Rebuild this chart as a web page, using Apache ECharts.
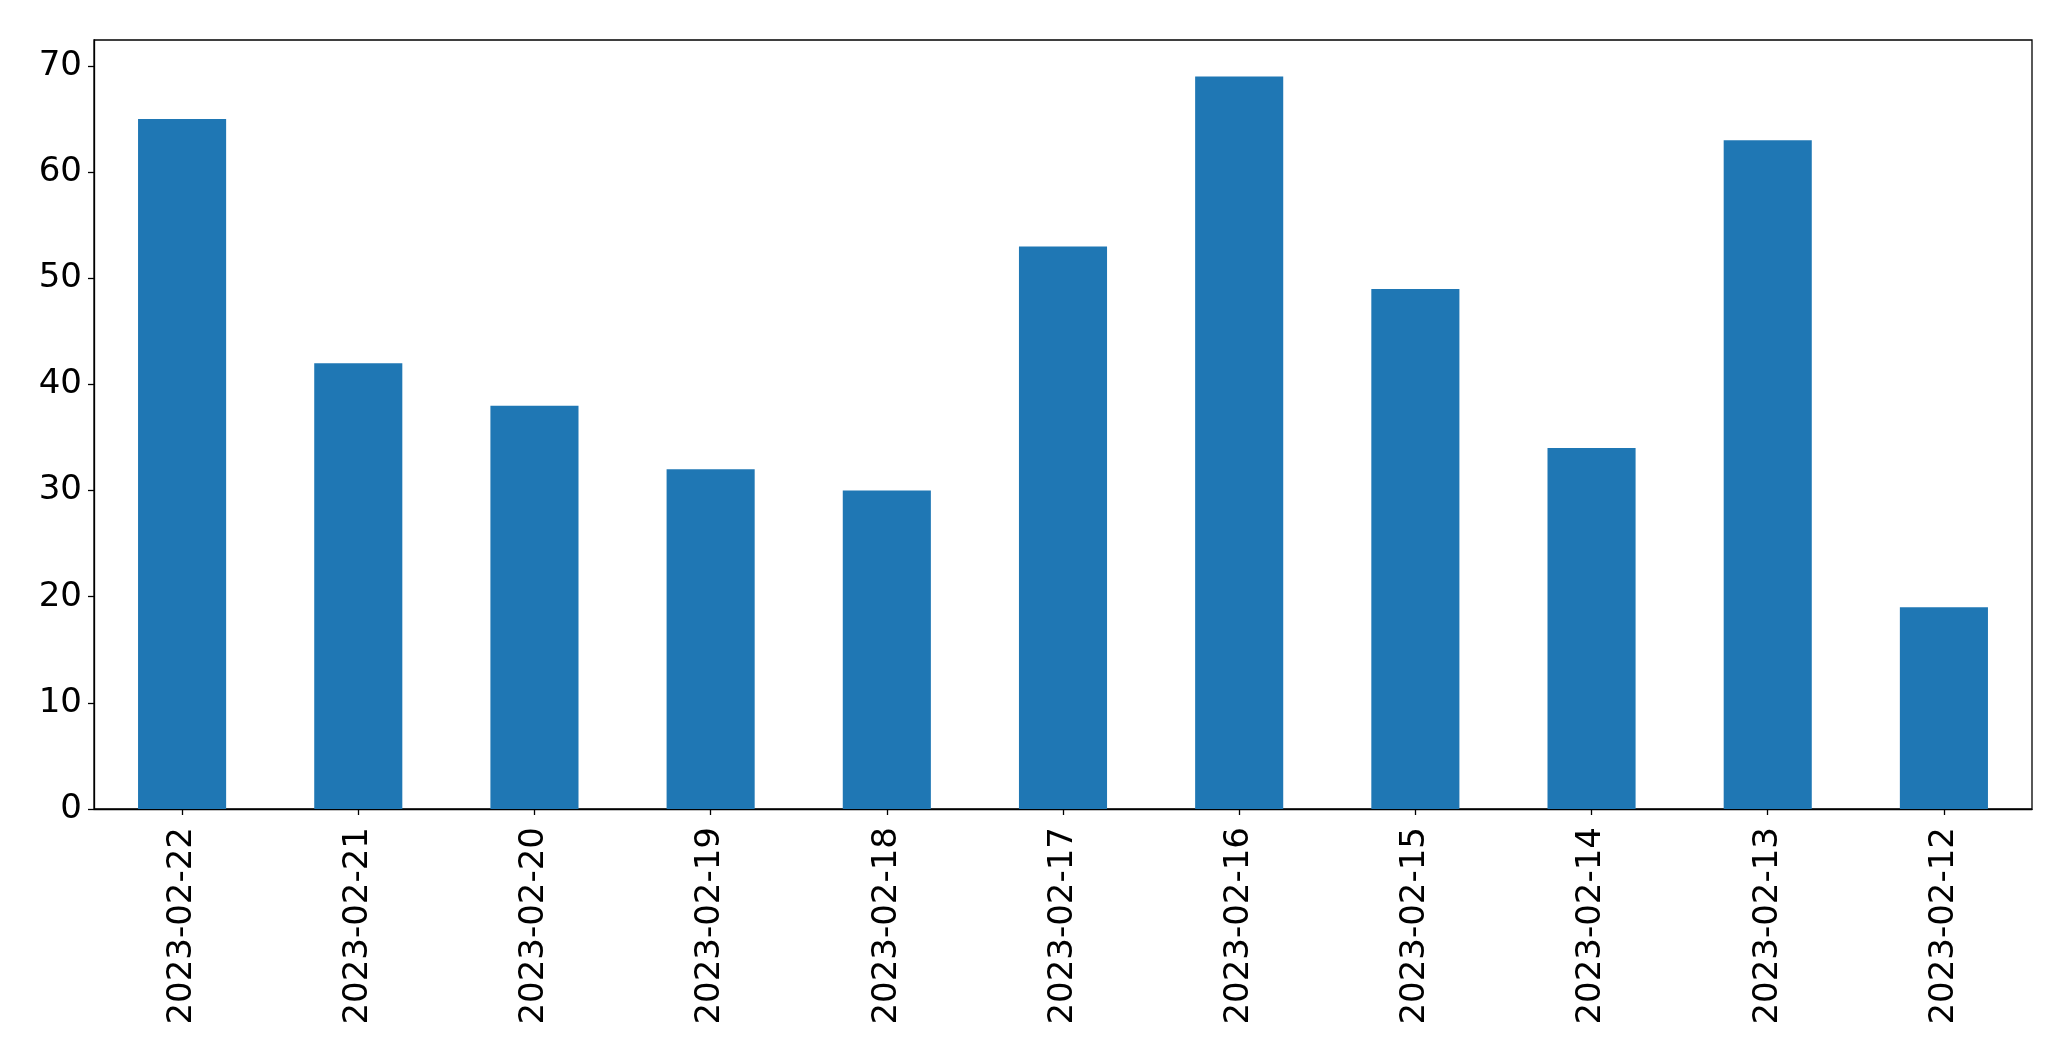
<!DOCTYPE html>
<html>
<head>
<meta charset="utf-8">
<script src="https://cdn.jsdelivr.net/npm/echarts@6/dist/echarts.min.js"></script>
<style>
html,body{margin:0;padding:0;background:#fff;}
#chart{width:2071px;height:1061px;}
</style>
</head>
<body>
<div id="chart"></div>
<script>
const categories = ["2023-02-22","2023-02-21","2023-02-20","2023-02-19","2023-02-18","2023-02-17","2023-02-16","2023-02-15","2023-02-14","2023-02-13","2023-02-12"];
const values = [65, 42, 38, 32, 30, 53, 69, 49, 34, 63, 19];
const yTicks = [0, 10, 20, 30, 40, 50, 60, 70];

const chart = echarts.init(document.getElementById('chart'), null, {renderer: 'canvas'});
const font = 'DejaVu Sans';
chart.setOption({
  animation: false,
  backgroundColor: '#ffffff',
  grid: {
    left: 94, top: 40, width: 1938, height: 769,
    show: true, borderColor: '#000', borderWidth: 1.3, backgroundColor: 'transparent',
    containLabel: false
  },
  xAxis: {
    type: 'category',
    data: categories,
    boundaryGap: true,
    axisLine: {show: true, lineStyle: {color: '#000', width: 1.3}},
    axisTick: {show: true, alignWithLabel: true, length: 6, lineStyle: {color: '#000', width: 1.3}},
    axisLabel: {rotate: 90, margin: 18, color: '#000', fontSize: 34, fontFamily: font, interval: 0},
    splitLine: {show: false}
  },
  yAxis: {
    type: 'value',
    min: 0,
    max: 72.45,
    interval: 10,
    axisLine: {show: true, lineStyle: {color: '#000', width: 1.3}},
    axisTick: {show: true, length: 6, customValues: yTicks, lineStyle: {color: '#000', width: 1.3}},
    axisLabel: {margin: 12, color: '#000', fontSize: 34, fontFamily: font, customValues: yTicks},
    splitLine: {show: false}
  },
  series: [{
    type: 'bar',
    data: values,
    barWidth: '50%',
    itemStyle: {color: '#1f77b4'}
  }]
});
</script>
</body>
</html>
